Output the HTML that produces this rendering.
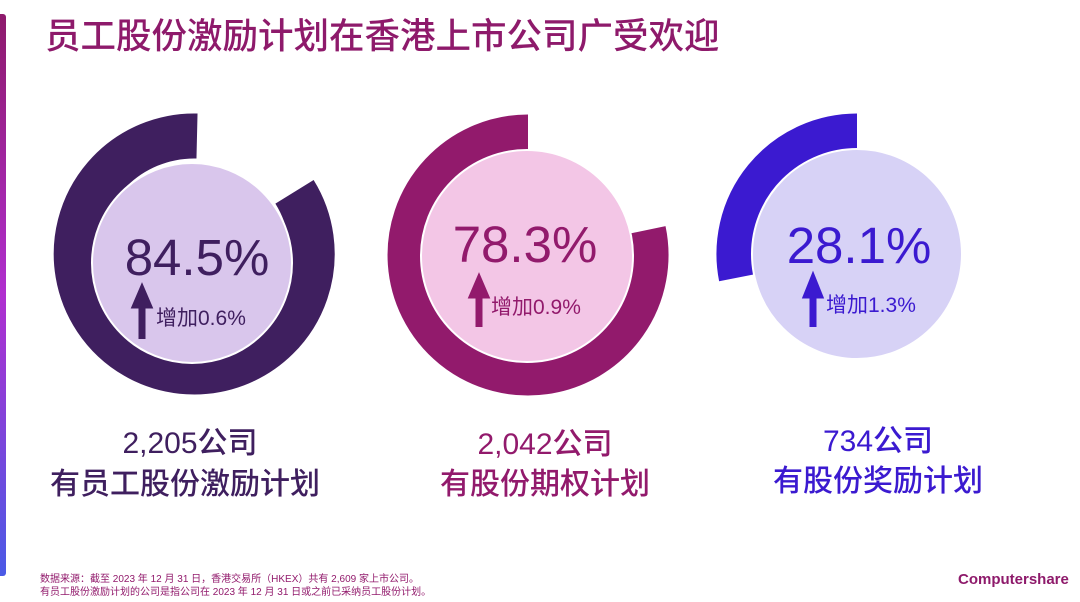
<!DOCTYPE html>
<html><head><meta charset="utf-8"><style>
body{margin:0;width:1080px;height:602px;background:#fff;overflow:hidden;position:relative;font-family:"Liberation Sans","Noto Sans CJK SC",sans-serif}
.t{position:absolute;white-space:nowrap}
</style></head><body>
<div style="position:absolute;left:0;top:14px;width:6px;height:562px;background:linear-gradient(#8e1a6b,#b02fcf 50%,#4a5ae6);border-radius:0 3px 3px 0"></div>
<div class="t" style="left:45px;top:8px;font-size:35.5px;color:#8e1a6b;font-weight:500">员工股份激励计划在香港上市公司广受欢迎</div>
<svg width="1080" height="602" style="position:absolute;left:0;top:0" font-family="Liberation Sans, Noto Sans CJK SC, sans-serif">
<path d="M294.5,191.8 A118 118 0 1 1 197 136" fill="none" stroke="#3f1f5f" stroke-width="45"/>
<circle cx="192" cy="263" r="100" fill="#d9c6ec" stroke="#fff" stroke-width="2"/>
<text x="197" y="275" font-size="51" fill="#3f1f5f" text-anchor="middle">84.5%</text>
<path d="M142,339 V303 M136,305 L142,291 L148,305 Z" stroke="#3f1f5f" stroke-width="7" fill="#3f1f5f"/>
<text x="156" y="325" font-size="21" fill="#3f1f5f">增加0.6%</text>

<path d="M643.5,230.7 A118 118 0 1 1 528 137" fill="none" stroke="#921a6c" stroke-width="45"/>
<circle cx="527" cy="256" r="106" fill="#f3c6e6" stroke="#fff" stroke-width="2"/>
<text x="525" y="262" font-size="51" fill="#921a6c" text-anchor="middle">78.3%</text>
<path d="M479,327 V293 M473,295 L479,281 L485,295 Z" stroke="#921a6c" stroke-width="7" fill="#921a6c"/>
<text x="491" y="314" font-size="21" fill="#921a6c">增加0.9%</text>

<path d="M857,136 A118 118 0 0 0 741.2,276.9" fill="none" stroke="#3b1ad0" stroke-width="45"/>
<circle cx="857" cy="254" r="105" fill="#d7d2f6" stroke="#fff" stroke-width="2"/>
<text x="859" y="263" font-size="51" fill="#3b1ad0" text-anchor="middle">28.1%</text>
<path d="M813,327 V293 M807,295 L813,280 L819,295 Z" stroke="#3b1ad0" stroke-width="7" fill="#3b1ad0"/>
<text x="826" y="312" font-size="21" fill="#3b1ad0">增加1.3%</text>

<g font-size="30" text-anchor="middle" font-weight="500">
<text x="190" y="453" fill="#3f1f5f">2,205公司</text>
<text x="185" y="494" fill="#3f1f5f">有员工股份激励计划</text>
<text x="545" y="454" fill="#921a6c">2,042公司</text>
<text x="545" y="494" fill="#921a6c">有股份期权计划</text>
<text x="878" y="451" fill="#3b1ad0">734公司</text>
<text x="878" y="491" fill="#3b1ad0">有股份奖励计划</text>
</g>
<g font-size="10" fill="#921a6c">
<text x="40" y="582">数据来源：截至 2023 年 12 月 31 日，香港交易所（HKEX）共有 2,609 家上市公司。</text>
<text x="40" y="595">有员工股份激励计划的公司是指公司在 2023 年 12 月 31 日或之前已采纳员工股份计划。</text>
</g>
<text x="958" y="584" font-size="15" font-weight="bold" fill="#8e1a6b">Computershare</text>
</svg>
</body></html>
